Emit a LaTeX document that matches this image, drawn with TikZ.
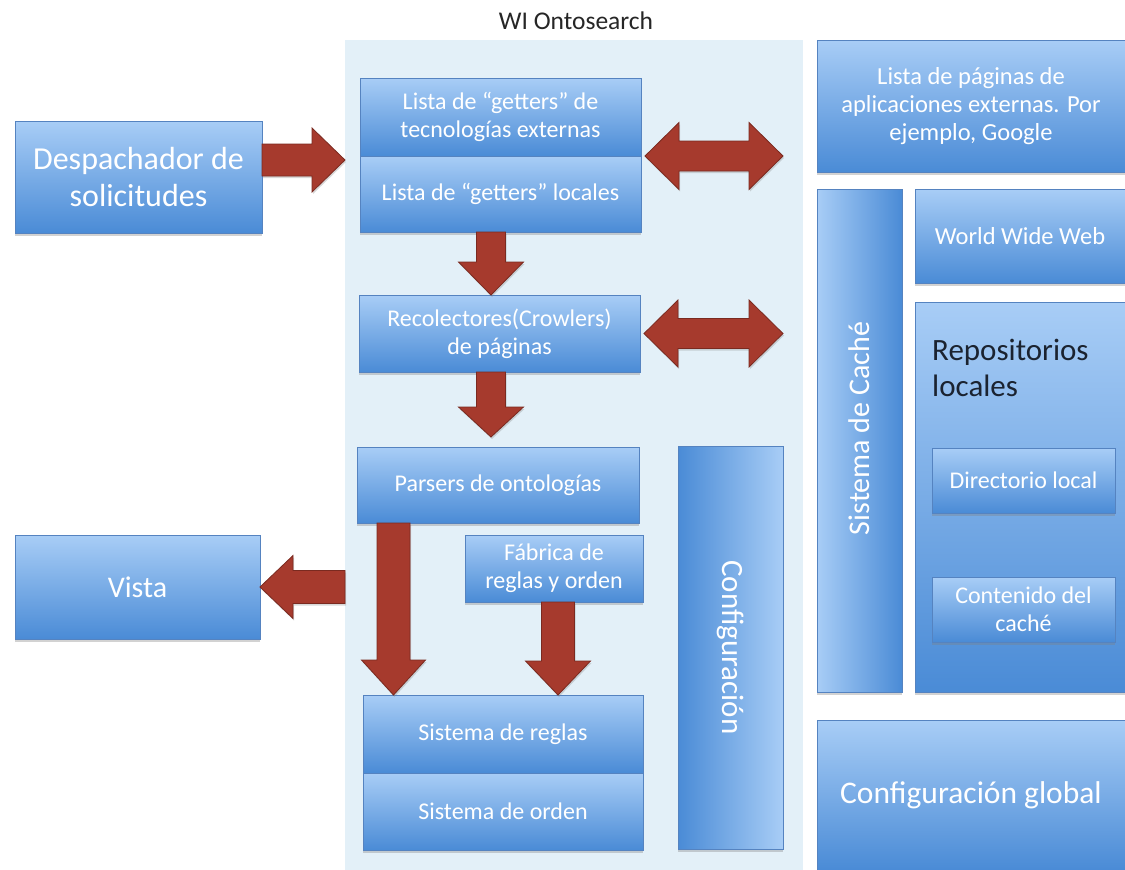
\documentclass[tikz,border=0pt]{standalone}
\usepackage{fontspec}
\setmainfont{Carlito}
\usetikzlibrary{shadows,calc}

\definecolor{boxtop}{HTML}{A8CDF6}
\definecolor{boxbot}{HTML}{4A8BD6}
\definecolor{boxedge}{HTML}{5583C0}
\definecolor{panel}{HTML}{E3F0F8}
\definecolor{arrowred}{HTML}{A63A2D}
\definecolor{arrowedge}{HTML}{7A2A20}
\definecolor{inktext}{HTML}{1B2330}

\tikzset{
  blk/.style={rectangle, draw=boxedge, line width=0.6pt, text=white,
    align=center, inner sep=2pt, outer sep=0pt,
    drop shadow={opacity=0.35, shadow xshift=0pt, shadow yshift=-2.5pt}},
  box/.style={blk, top color=boxtop, bottom color=boxbot},
  lightleft/.style={blk, left color=boxtop, right color=boxbot},
  darkleft/.style={blk, left color=boxbot, right color=boxtop},
  barrow/.style={fill=arrowred, draw=arrowedge, line width=0.8pt,
    drop shadow={opacity=0.3, shadow xshift=1pt, shadow yshift=-2pt}},
}

% box: style, name, x1, y1, x2, y2, font size, text  (pixel coordinates, y downwards)
\newcommand{\blk}[8][box]{%
  \node[#1, font=\fontsize{#7}{\fpeval{#7*1.15}}\selectfont,
    minimum width={(#5-#3)*1pt}, minimum height={(#6-#4)*1pt}]
    (#2) at ({(#3+#5)/2},{(#4+#6)/2}) {#8};}

% downward block arrow: from, to, x, shaft half, head half, head length, tip gap
\newcommand{\blkdown}[7]{%
  \path[barrow] let \p1=(#1.south), \p2=(#2.north) in
    (#3pt-#4pt,\y1) -- (#3pt+#4pt,\y1) -- (#3pt+#4pt,\y2+#7pt+#6pt)
    -- (#3pt+#5pt,\y2+#7pt+#6pt) -- (#3pt,\y2+#7pt)
    -- (#3pt-#5pt,\y2+#7pt+#6pt) -- (#3pt-#4pt,\y2+#7pt+#6pt) -- cycle;}

% rightward block arrow: from, to, y reference, shaft half, head half, head length, tip gap
\newcommand{\blkright}[7]{%
  \path[barrow] let \p1=(#1.east), \p2=(#2.west), \p3=(#3) in
    (\x1,\y3+#4pt) -- (\x2-#7pt-#6pt,\y3+#4pt) -- (\x2-#7pt-#6pt,\y3+#5pt)
    -- (\x2-#7pt,\y3) -- (\x2-#7pt-#6pt,\y3-#5pt) -- (\x2-#7pt-#6pt,\y3-#4pt)
    -- (\x1,\y3-#4pt) -- cycle;}

% leftward block arrow: from coordinate, to node, shaft half, head half, head length
\newcommand{\blkleft}[5]{%
  \path[barrow] let \p1=(#1), \p2=(#2.east) in
    (\x1,\y2+#3pt) -- (\x2+#5pt,\y2+#3pt) -- (\x2+#5pt,\y2+#4pt)
    -- (\x2,\y2) -- (\x2+#5pt,\y2-#4pt) -- (\x2+#5pt,\y2-#3pt)
    -- (\x1,\y2-#3pt) -- cycle;}

% two-headed block arrow: from, to, y reference, shaft half, head half, head length, gap left, gap right
\newcommand{\blkboth}[8]{%
  \path[barrow] let \p1=(#1.east), \p2=(#2.west), \p3=(#3) in
    (\x1+#7pt,\y3) -- (\x1+#7pt+#6pt,\y3+#5pt) -- (\x1+#7pt+#6pt,\y3+#4pt)
    -- (\x2-#8pt-#6pt,\y3+#4pt) -- (\x2-#8pt-#6pt,\y3+#5pt) -- (\x2-#8pt,\y3)
    -- (\x2-#8pt-#6pt,\y3-#5pt) -- (\x2-#8pt-#6pt,\y3-#4pt)
    -- (\x1+#7pt+#6pt,\y3-#4pt) -- (\x1+#7pt+#6pt,\y3-#5pt) -- cycle;}

\begin{document}
\begin{tikzpicture}[x=1pt, y=-1pt]
\useasboundingbox (0,0) rectangle (1125,870);
\fill[white] (0,0) rectangle (1125,870);

% WI Ontosearch panel
\node[fill=panel, minimum width=458pt, minimum height=830pt, inner sep=0pt]
  (onto) at (574,455) {};
\node[anchor=base, text=black!85, font=\fontsize{25.5}{27}\selectfont]
  (title) at (576,29) {WI Ontosearch};

% inner components
\blk{get1}{360}{78}{641}{156}{24}{Lista de “getters” de\\ tecnologías externas}
\blk{get2}{360}{156}{641}{232}{24}{Lista de “getters” locales}
\blk{rec}{359}{295}{640}{372}{24}{Recolectores(Crowlers)\\ de páginas}
\blk{pars}{357}{447}{639}{523}{24}{Parsers de ontologías}
\blk{fab}{465}{535}{643}{602}{24}{Fábrica de\\ reglas y orden}
\blk{reg}{363}{695}{643}{773}{24}{Sistema de reglas}
\blk{ord}{363}{773}{643}{850}{24}{Sistema de orden}
\blk[darkleft]{conf}{678}{446}{783}{849}{24}{}
\node[rotate=-90, text=white, font=\fontsize{31}{33}\selectfont]
  (conftxt) at (conf.center) {Configuración};

% outer components
\blk{desp}{15}{121}{262}{233}{32}{Despachador de\\ solicitudes}
\blk{vista}{15}{535}{260}{639}{30}{Vista}
\blk{pag}{817}{40}{1125}{172}{24.5}{Lista de páginas de\\ aplicaciones externas. Por\\ ejemplo, Google}
\blk[lightleft]{cache}{817}{189}{902}{692}{24}{}
\node[rotate=90, text=white, font=\fontsize{30}{32}\selectfont]
  (cachetxt) at ($(cache.center)+(0,-12)$) {Sistema de Caché};
\blk{www}{915}{189}{1125}{283}{24.5}{World Wide Web}
\blk{repo}{915}{302}{1125}{692}{24}{}
\node[anchor=north west, align=left, inner sep=0pt, text=inktext,
  font=\fontsize{31}{36}\selectfont] (repotxt) at (932,339) {Repositorios\\ locales};
\blk{dir}{932}{448}{1115}{513}{24}{Directorio local}
\blk{cont}{932}{577}{1115}{642}{24}{Contenido del\\ caché}
\blk{glob}{817}{720}{1125}{870}{31.5}{Configuración global}

% block arrows
\coordinate (despout) at (262,160);
\blkright{desp}{get2}{despout}{16}{32}{33}{15}
\blkboth{get1}{pag}{get1.south}{15}{33.5}{34}{4}{34}
\blkboth{rec}{cache}{rec.center}{15}{33.5}{34}{4}{34}
\blkdown{get2}{rec}{491}{14.5}{32.5}{33}{0}
\blkdown{rec}{pars}{491}{14.5}{32.5}{30}{10}
\blkdown{pars}{reg}{393.5}{16.5}{32}{35}{0}
\blkdown{fab}{reg}{558}{16.5}{32.5}{34}{0}
\coordinate (vistasrc) at (345,587);
\blkleft{vistasrc}{vista}{16.5}{31.5}{33}
\end{tikzpicture}
\end{document}
